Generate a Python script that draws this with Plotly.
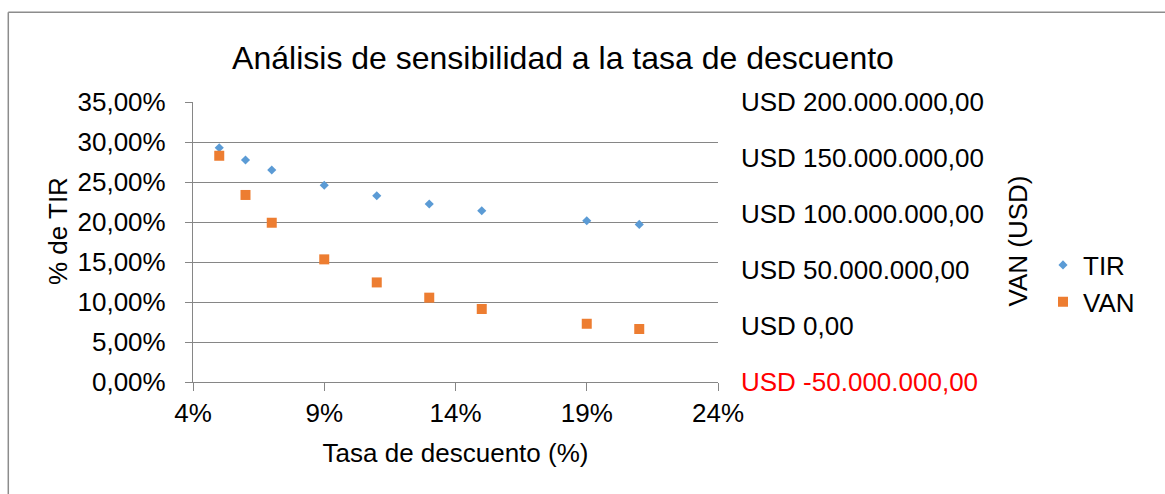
import plotly.graph_objects as go

# Discount rate (x) and results of the sensitivity analysis
tasa_descuento = [0.05, 0.06, 0.07, 0.09, 0.11, 0.13, 0.15, 0.19, 0.21]
tir = [0.2929, 0.2775, 0.2650, 0.2460, 0.2329, 0.2225, 0.2140, 0.2016, 0.1970]
van_usd = [152.0e6, 117.0e6, 92.2e6, 59.5e6, 38.9e6, 25.3e6, 15.2e6, 2.0e6, -2.7e6]

# Right-axis tick values (VAN, USD)
van_ticks = [-50e6, 0, 50e6, 100e6, 150e6, 200e6]

FONT = "Liberation Sans, Arial, sans-serif"
GRID = "#868686"
BLUE = "#5B9BD5"
ORANGE = "#ED7D31"

L, R, T, B = 193, 447, 102, 112
PW, PH = 1165 - L - R, 494 - T - B


def usd(v):
    s = f"{v:,.2f}".replace(",", "X").replace(".", ",").replace("X", ".")
    txt = f"USD {s}"
    if v < 0:
        txt = f'<span style="color:#ff0000">{txt}</span>'
    return txt


def px(x):
    return (x - L) / PW


def py(y):
    return (494 - B - y) / PH


fig = go.Figure()
fig.add_trace(go.Scatter(
    x=tasa_descuento, y=tir, name="TIR", mode="markers",
    marker=dict(symbol="diamond", size=7, color=BLUE),
    yaxis="y",
))
fig.add_trace(go.Scatter(
    x=tasa_descuento, y=van_usd, name="VAN", mode="markers",
    marker=dict(symbol="square", size=10, color=ORANGE),
    yaxis="y2",
))

fig.update_layout(
    width=1165, height=494,
    margin=dict(l=L, r=R, t=T, b=B),
    paper_bgcolor="white", plot_bgcolor="white",
    separators=",.",
    font=dict(family=FONT, size=26, color="#000000"),
    title=dict(
        text="Análisis de sensibilidad a la tasa de descuento",
        font=dict(family=FONT, size=32, color="#000000"),
        x=563 / 1165, xanchor="center", xref="container",
        y=1 - 58 / 494, yanchor="middle", yref="container",
    ),
    xaxis=dict(
        range=[0.04, 0.24], tick0=0.04, dtick=0.05, tickformat=".0%",
        showgrid=False, zeroline=False,
        showline=True, linecolor=GRID, linewidth=1.2,
        ticks="outside", ticklen=8, tickcolor=GRID, tickwidth=1.2,
        tickfont=dict(family=FONT, size=26),
        title=dict(text="Tasa de descuento (%)", font=dict(family=FONT, size=26), standoff=16),
    ),
    yaxis=dict(
        range=[0, 0.35], tick0=0, dtick=0.05, tickformat=".2%",
        showgrid=True, gridcolor=GRID, gridwidth=1.2, zeroline=False,
        showline=True, linecolor=GRID, linewidth=1.2,
        ticks="outside", ticklen=7, tickcolor=GRID, tickwidth=1.2,
        tickfont=dict(family=FONT, size=26),
        ticklabelstandoff=14,
    ),
    yaxis2=dict(
        overlaying="y", side="right",
        range=[-50e6, 200e6],
        tickmode="array", tickvals=van_ticks, ticktext=[usd(v) for v in van_ticks],
        showgrid=False, zeroline=False, showline=False, ticks="",
        tickfont=dict(family=FONT, size=26),
        ticklabelstandoff=22,
    ),
    legend=dict(
        x=px(1043), xanchor="left", y=py(283.5), yanchor="middle",
        font=dict(family=FONT, size=26),
        bgcolor="rgba(0,0,0,0)", tracegroupgap=0,
    ),
    showlegend=True,
)

# Rotated axis titles
fig.add_annotation(
    text="% de TIR", textangle=-90, showarrow=False,
    xref="paper", yref="paper", x=px(58), y=py(231),
    xanchor="center", yanchor="middle",
    font=dict(family=FONT, size=26),
)
fig.add_annotation(
    text="VAN (USD)", textangle=-90, showarrow=False,
    xref="paper", yref="paper", x=px(1017), y=py(241.5),
    xanchor="center", yanchor="middle",
    font=dict(family=FONT, size=26),
)

# Chart-area frame (left and top edges)
fig.add_shape(type="line", xref="paper", yref="paper",
              x0=px(8.3), x1=px(8.3), y0=py(12.3), y1=py(520),
              line=dict(color="#8c8c8c", width=1.5))
fig.add_shape(type="line", xref="paper", yref="paper",
              x0=px(8.3), x1=px(1180), y0=py(12.3), y1=py(12.3),
              line=dict(color="#8c8c8c", width=1.5))

fig.write_html("out.html")
